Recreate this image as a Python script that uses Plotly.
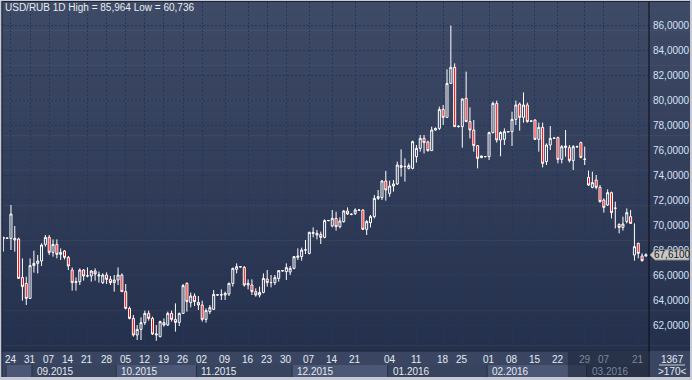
import plotly.graph_objects as go

# ---------------- data ----------------
opens = [68.9, 68.93, 68.93, 68.8, 68.88, 65.81, 65.33, 64.13, 66.75, 66.93,
         67.12, 68.45, 69.01, 67.81, 68.45, 67.65, 67.92, 67.41, 66.4, 65.39,
         65.47, 66.4, 65.92, 65.92, 66.32, 65.92, 65.39, 66.0, 65.65, 65.39,
         65.6, 66.0, 64.67, 63.33, 62.53, 61.2, 61.65, 62.19, 62.93, 62.53,
         61.2, 61.07, 62.19, 62.0, 62.93, 62.45, 62.21, 62.93, 65.33, 63.79,
         64.32, 63.81, 63.6, 62.45, 63.07, 63.25, 64.4, 64.4, 64.4, 64.48,
         65.33, 66.45, 66.67, 66.61, 65.2, 65.2, 64.67, 64.4, 64.61, 65.68,
         65.39, 65.39, 65.73, 66.35, 66.27, 66.24, 66.53, 67.41, 67.47, 68.0,
         67.73, 69.33, 69.2, 69.25, 69.01, 70.35, 69.92, 70.53, 69.87, 70.27,
         71.12, 70.85, 70.93, 71.2, 71.2, 69.65, 70.19, 70.67, 72.13, 72.19,
         73.52, 72.53, 73.12, 73.28, 74.61, 74.67, 74.53, 74.53, 75.47, 76.13,
         76.93, 76.64, 75.95, 77.6, 77.73, 79.25, 78.61, 81.33, 82.61, 77.87,
         77.87, 80.13, 78.27, 77.6, 76.35, 75.39, 75.47, 75.47, 77.39, 79.73,
         76.8, 76.85, 77.45, 77.47, 78.45, 79.68, 78.61, 79.6, 78.3, 78.4,
         76.85, 77.81, 75.07, 76.4, 76.93, 76.99, 75.25, 76.19, 76.19, 75.15,
         76.25, 76.59, 75.25, 73.81, 73.01, 73.6, 73.01, 72.0, 71.6, 72.59,
         71.33, 70.05, 69.81, 70.27, 70.67, 67.6, 68.53, 67.52, 67.52]
highs = [69.07, 69.0, 71.6, 69.92, 68.99, 67.33, 65.87, 67.33, 67.95, 67.6,
         68.53, 69.2, 69.2, 68.85, 68.85, 68.13, 68.0, 67.52, 66.61, 65.81,
         66.53, 66.48, 66.61, 66.4, 66.53, 66.27, 66.13, 66.21, 65.92, 66.0,
         66.61, 66.13, 65.28, 63.47, 62.8, 62.0, 62.61, 63.15, 63.15, 62.67,
         62.0, 62.35, 62.53, 63.07, 63.15, 63.73, 62.99, 65.28, 65.41, 64.59,
         64.53, 64.32, 63.95, 63.33, 63.6, 64.8, 64.45, 64.85, 64.67, 65.39,
         66.59, 66.93, 66.7, 66.72, 65.65, 65.65, 64.93, 65.07, 66.13, 66.4,
         66.0, 66.0, 66.4, 66.4, 66.93, 66.72, 67.52, 68.13, 68.19, 68.8,
         69.47, 69.81, 69.6, 69.47, 70.45, 70.4, 71.2, 71.07, 70.61, 71.2,
         71.41, 70.92, 71.33, 71.27, 71.25, 70.4, 70.8, 72.4, 72.8, 73.6,
         74.32, 73.55, 73.6, 75.07, 76.05, 75.33, 74.93, 76.75, 76.4, 77.2,
         77.2, 76.75, 77.87, 77.8, 79.47, 79.6, 82.45, 85.964, 82.93, 77.95,
         80.13, 82.27, 79.41, 78.4, 76.4, 75.55, 75.5, 77.47, 79.87, 79.95,
         77.5, 77.73, 77.5, 79.07, 79.95, 79.79, 80.61, 79.79, 78.35, 78.45,
         78.19, 78.19, 76.53, 77.92, 77.0, 77.07, 76.4, 77.6, 76.4, 76.4,
         76.35, 76.67, 76.27, 74.35, 74.27, 74.0, 73.2, 72.13, 72.85, 72.67,
         71.87, 70.13, 70.67, 71.33, 71.2, 70.13, 68.59, 67.73, 67.73]
lows = [67.87, 68.9, 68.0, 67.87, 65.73, 63.95, 63.6, 64.13, 66.19, 66.13,
        66.72, 68.27, 67.6, 67.47, 67.33, 67.2, 67.25, 66.4, 64.75, 64.75,
        65.2, 65.55, 65.81, 65.47, 65.55, 65.39, 65.28, 65.28, 65.2, 64.67,
        65.2, 64.67, 63.25, 62.45, 61.07, 60.8, 60.8, 62.0, 62.35, 61.2,
        60.736, 61.01, 61.87, 61.92, 62.27, 61.47, 61.92, 62.93, 63.07, 63.41,
        63.52, 63.2, 62.27, 62.19, 62.88, 63.2, 64.35, 64.0, 64.0, 64.32,
        65.07, 66.13, 66.6, 65.07, 64.85, 64.4, 64.27, 64.21, 64.53, 65.07,
        65.01, 65.2, 65.47, 66.3, 65.6, 66.0, 66.45, 67.2, 67.15, 67.68,
        67.65, 69.01, 68.85, 68.48, 68.93, 70.3, 69.81, 69.55, 69.73, 70.19,
        70.8, 70.78, 70.8, 71.13, 69.6, 69.2, 69.81, 70.53, 72.0, 72.0,
        71.95, 72.27, 72.67, 73.2, 73.87, 73.47, 74.45, 74.45, 74.99, 75.87,
        75.73, 75.87, 75.95, 77.55, 77.6, 78.0, 78.61, 81.33, 77.87, 77.8,
        76.19, 78.27, 76.93, 75.87, 74.53, 75.35, 75.43, 75.2, 77.33, 76.59,
        75.5, 76.4, 77.4, 76.32, 78.0, 77.55, 78.19, 78.19, 78.25, 76.8,
        75.87, 74.61, 74.8, 76.0, 76.9, 74.93, 74.93, 75.47, 75.0, 74.4,
        76.2, 75.33, 74.8, 73.12, 72.93, 72.85, 71.79, 70.99, 71.52, 70.53,
        69.73, 69.33, 69.55, 70.13, 70.08, 67.15, 67.33, 67.07, 67.47]
closes = [69.0, 68.95, 70.88, 68.93, 65.73, 65.07, 64.13, 66.75, 66.93, 67.12,
          68.4, 69.01, 67.81, 68.45, 67.65, 67.81, 67.41, 66.72, 65.39, 65.47,
          66.4, 65.92, 65.93, 66.32, 66.08, 66.0, 66.0, 65.65, 65.39, 65.6,
          66.0, 64.67, 63.33, 62.53, 61.2, 61.65, 62.19, 62.93, 62.53, 61.28,
          61.28, 62.27, 62.0, 62.93, 62.45, 62.21, 62.93, 65.15, 63.87, 64.32,
          63.87, 63.6, 62.45, 63.15, 63.39, 64.45, 64.41, 64.42, 64.53, 65.33,
          66.53, 66.67, 66.65, 65.2, 65.33, 64.67, 64.4, 64.61, 65.73, 65.39,
          65.4, 65.79, 66.35, 66.33, 66.59, 66.53, 67.47, 67.52, 68.0, 68.01,
          69.41, 69.41, 69.33, 69.01, 70.35, 70.36, 70.53, 69.87, 70.32, 71.12,
          70.88, 70.86, 71.2, 71.18, 69.65, 70.27, 70.67, 72.13, 72.27, 73.52,
          72.8, 73.12, 73.28, 74.8, 74.75, 74.68, 74.75, 76.67, 76.13, 76.93,
          76.59, 75.95, 77.6, 77.73, 79.25, 78.61, 81.33, 82.61, 77.87, 77.9,
          80.08, 78.27, 77.6, 76.35, 75.33, 75.52, 75.47, 77.39, 79.73, 76.8,
          77.4, 77.47, 77.47, 78.45, 79.6, 78.61, 79.6, 78.27, 78.32, 76.85,
          77.81, 74.93, 76.4, 76.93, 76.95, 75.25, 76.27, 76.32, 75.15, 76.27,
          76.27, 75.41, 75.27, 73.2, 73.39, 73.01, 71.87, 71.41, 72.59, 70.99,
          71.35, 69.81, 70.08, 70.99, 70.13, 68.27, 67.73, 67.15, 67.61]
bars = list(range(len(opens)))

tick_labels = ["24", "31", "07", "14", "21", "28", "05", "12", "19", "26",
               "02", "09", "16", "23", "30", "07", "14", "21", "04", "11",
               "18", "25", "01", "08", "15", "22", "29", "07", "21"]
tick_bars = [2, 7, 12, 17, 22, 27, 32, 37, 42, 47,
             52, 58, 64, 69, 74, 80, 86, 92, 101, 108,
             115, 120, 127, 133, 139, 145, 152, 157, 166]
month_labels = ["09.2015", "10.2015", "11.2015", "12.2015", "01.2016", "02.2016", "03.2016"]
month_starts = [7.5, 29.5, 50.5, 75.5, 100.5, 126.5, 152.5]
dim_from = 147.6  # bar position where the dimmed axis overlay begins

y_ticks = [62, 64, 66, 68, 70, 72, 74, 76, 78, 80, 82, 84, 86]
title_text = "USD/RUB 1D High = 85,964 Low = 60,736"
last_price_text = "67,6100"
corner_top = "1367"
corner_bottom = ">170<"

# ---------------- layout geometry ----------------
W, H = 692, 380
ML, MR, MT, MB = 3, 43, 2, 29
PW, PH = W - ML - MR, H - MT - MB
XR = [-0.08, 168.81]
YR = [59.92, 87.84]


def pxx(px):
    return (px - ML) / PW


def pxy(py):
    return (H - MB - py) / PH


def bx(b):
    return (b - XR[0]) / (XR[1] - XR[0])


FONT = "Liberation Sans, Arial, sans-serif"

fig = go.Figure()
fig.add_trace(go.Candlestick(
    x=bars, open=opens, high=highs, low=lows, close=closes,
    increasing=dict(line=dict(color="#ffffff", width=1), fillcolor="rgba(0,0,0,0)"),
    decreasing=dict(line=dict(color="#ffffff", width=1), fillcolor="#ff0000"),
    whiskerwidth=0, hoverinfo="skip", showlegend=False,
))

shapes = []
# gradient background for chart + right axis column
N = 60
top = (62, 74, 102)
bot = (37, 48, 77)
y_top, y_bot = 1.0, 351.0
for i in range(N):
    t = i / (N - 1)
    c = tuple(round(top[k] + (bot[k] - top[k]) * t) for k in range(3))
    py0 = y_top + (y_bot - y_top) * i / N
    py1 = y_top + (y_bot - y_top) * (i + 1) / N + 0.6
    shapes.append(dict(type="rect", xref="paper", yref="paper", layer="below",
                       x0=pxx(1.5), x1=pxx(690), y0=pxy(py1), y1=pxy(py0),
                       fillcolor="rgb(%d,%d,%d)" % c, line_width=0))
# axis panel rows
shapes.append(dict(type="rect", xref="paper", yref="paper", layer="below",
                   x0=pxx(1.5), x1=pxx(690), y0=pxy(377), y1=pxy(351),
                   fillcolor="#3a4661", line_width=0))
# month bands (alternating)
bounds = [0.7] + month_starts + [XR[1]]
for i in range(len(bounds) - 1):
    col = "#4b5774" if i % 2 == 0 else "#38435d"
    shapes.append(dict(type="rect", xref="paper", yref="paper", layer="below",
                       x0=bx(bounds[i]), x1=min(bx(bounds[i + 1]), 1.0),
                       y0=pxy(377), y1=pxy(365),
                       fillcolor=col, line_width=0))
    shapes.append(dict(type="line", xref="paper", yref="paper", layer="below",
                       x0=bx(bounds[i]), x1=bx(bounds[i]), y0=pxy(377), y1=pxy(365),
                       line=dict(color="#25304a", width=1)))
# dim overlay on the right part of the time axis
shapes.append(dict(type="rect", xref="paper", yref="paper", layer="above",
                   x0=bx(dim_from), x1=pxx(648), y0=pxy(377), y1=pxy(352),
                   fillcolor="rgba(20,27,44,0.45)", line_width=0))
# separators
shapes.append(dict(type="line", xref="paper", yref="paper", layer="above",
                   x0=pxx(2), x1=pxx(649), y0=pxy(351), y1=pxy(351),
                   line=dict(color="#1c2436", width=1)))
shapes.append(dict(type="line", xref="paper", yref="paper", layer="above",
                   x0=pxx(649), x1=pxx(649), y0=pxy(377), y1=pxy(1.5),
                   line=dict(color="#0a0d14", width=1)))
shapes.append(dict(type="line", xref="paper", yref="paper", layer="above",
                   x0=pxx(2), x1=pxx(690), y0=pxy(1.5), y1=pxy(1.5),
                   line=dict(color="#1c2436", width=1)))
shapes.append(dict(type="line", xref="paper", yref="paper", layer="above",
                   x0=pxx(2), x1=pxx(2), y0=pxy(377), y1=pxy(1.5),
                   line=dict(color="#1c2436", width=1)))
# corner counter divider
shapes.append(dict(type="line", xref="paper", yref="paper", layer="above",
                   x0=pxx(659), x1=pxx(685), y0=pxy(365), y1=pxy(365),
                   line=dict(color="#c8ccd6", width=1)))
# last price tag
lp = closes[-1]
half = (YR[1] - YR[0]) / PH * 5.0
shapes.append(dict(type="path", xref="paper", yref="y", layer="above",
                   path="M %f,%f L %f,%f L %f,%f L %f,%f L %f,%f Z" % (
                       pxx(650), lp, pxx(655), lp + half, pxx(689), lp + half,
                       pxx(689), lp - half, pxx(655), lp - half),
                   fillcolor="#c9c9c9", line=dict(color="#9a9a9a", width=1)))

annotations = []
annotations.append(dict(text=title_text, xref="paper", yref="paper",
                        x=pxx(3), y=pxy(8), xanchor="left", yanchor="middle",
                        showarrow=False, font=dict(family=FONT, size=10, color="#e8ecf2")))
for lab, b in zip(tick_labels, tick_bars):
    col = "#7d889c" if b >= dim_from else "#e4eaf4"
    annotations.append(dict(text=lab, xref="x", yref="paper", x=b, y=pxy(359),
                            xanchor="center", yanchor="middle", showarrow=False,
                            font=dict(family=FONT, size=10, color=col)))
for lab, b in zip(month_labels, month_starts):
    col = "#7d889c" if b >= dim_from else "#e4eaf4"
    annotations.append(dict(text=lab, xref="x", yref="paper", x=b, y=pxy(371),
                            xanchor="left", yanchor="middle", xshift=3, showarrow=False,
                            font=dict(family=FONT, size=10, color=col)))
annotations.append(dict(text=corner_top, xref="paper", yref="paper", x=pxx(672), y=pxy(359),
                        xanchor="center", yanchor="middle", showarrow=False,
                        font=dict(family=FONT, size=10, color="#e4eaf4")))
annotations.append(dict(text=corner_bottom, xref="paper", yref="paper", x=pxx(672), y=pxy(371),
                        xanchor="center", yanchor="middle", showarrow=False,
                        font=dict(family=FONT, size=10, color="#e4eaf4")))
annotations.append(dict(text=last_price_text, xref="paper", yref="y", x=pxx(672), y=lp,
                        xanchor="center", yanchor="middle", showarrow=False,
                        font=dict(family=FONT, size=10, color="#151515")))

fig.update_layout(
    width=W, height=H,
    margin=dict(l=ML, r=MR, t=MT, b=MB, pad=0),
    paper_bgcolor="#c6cad2",
    plot_bgcolor="rgba(0,0,0,0)",
    shapes=shapes,
    annotations=annotations,
    showlegend=False,
    boxgap=0.25,
    xaxis=dict(range=XR, rangeslider=dict(visible=False), tickvals=tick_bars,
               showticklabels=False, showgrid=True, gridcolor="#1e3864", gridwidth=1,
               griddash="2px,2px", zeroline=False, showline=False, ticks="", fixedrange=True),
    yaxis=dict(range=YR, side="right", tickvals=y_ticks,
               ticktext=["%d,0000" % v for v in y_ticks],
               showgrid=True, gridcolor="#1e3864", gridwidth=1, griddash="2px,2px",
               zeroline=False, showline=False, ticks="", ticklabelstandoff=3,
               tickfont=dict(family=FONT, size=10, color="#d6e2f6"), fixedrange=True),
)

fig.write_html("out.html", config={"displayModeBar": False},
               post_script="document.body.style.margin='0px';document.body.style.overflow='hidden';")
